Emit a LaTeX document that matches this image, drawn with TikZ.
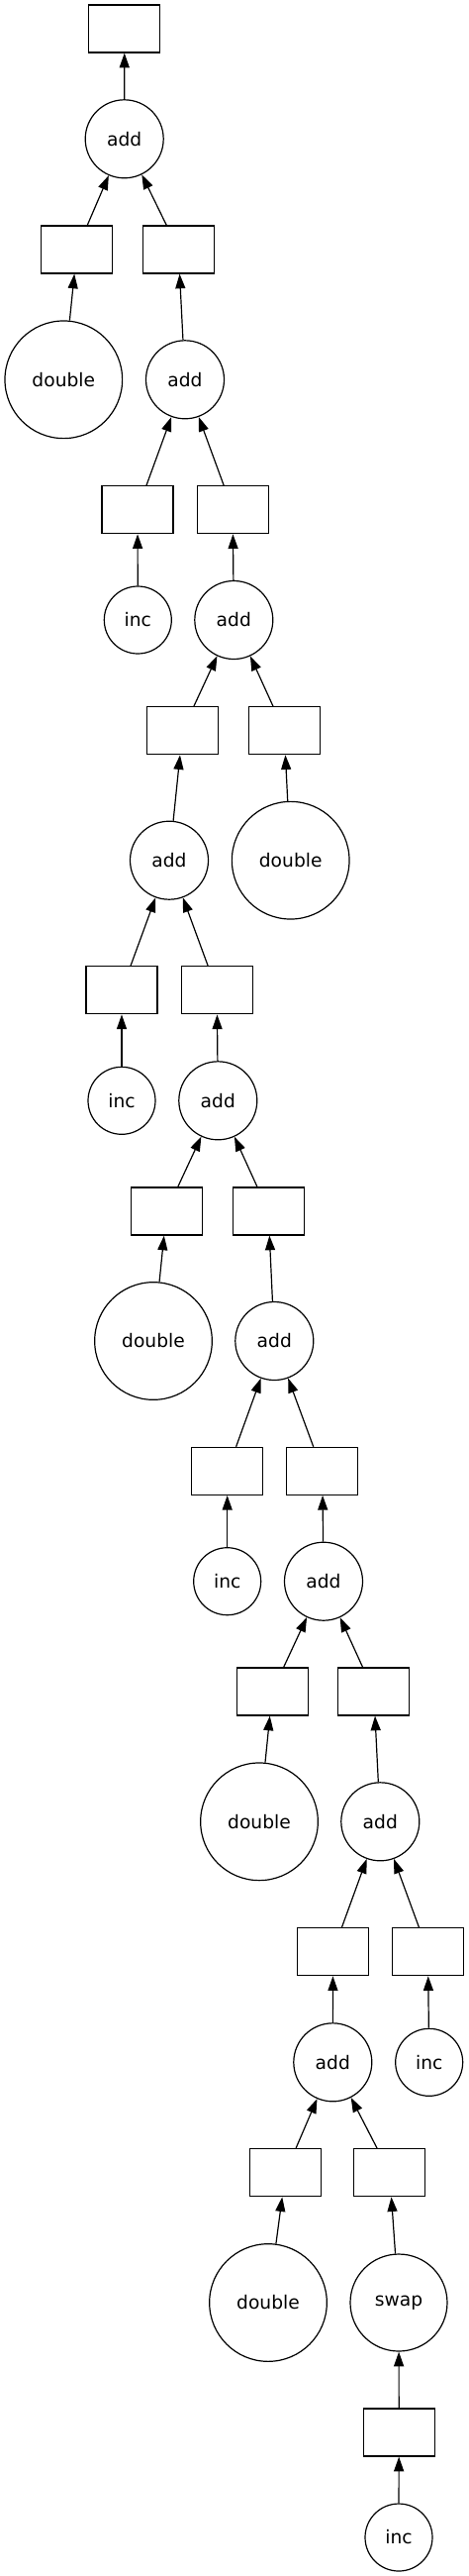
\documentclass[tikz,border=0pt]{standalone}
\usepackage{fontspec}
\setmainfont{DejaVu Sans}
\usetikzlibrary{arrows.meta}

\begin{document}
\begin{tikzpicture}[x=0.75pt, y=-0.75pt, line width=0.9pt,
                    >={Triangle[length=11pt,width=7.5pt]},
                    every node/.style={draw,inner sep=0pt,font=\fontsize{14pt}{16pt}\selectfont},
                    data node/.style={rectangle,minimum width=54pt,minimum height=36pt},
                    task node/.style={circle,minimum size=59.25pt},
                    inc node/.style={circle,minimum size=51pt},
                    double node/.style={circle,minimum size=89pt},
                    swap node/.style={circle,minimum size=73.5pt}]

  \useasboundingbox (0,0) rectangle (474,2601);

  \node[data node] (1) at (125.8,29) {};
  \node[task node] (2) at (125.7,140.3) {add};
  \node[data node] (3) at (77.7,252) {};
  \node[data node] (4) at (180.3,252) {};
  \node[double node] (5) at (64.3,383.3) {double};
  \node[task node] (6) at (187,383.3) {add};
  \node[data node] (7) at (139,514.7) {};
  \node[data node] (8) at (235.2,514.7) {};
  \node[inc node] (9) at (139.3,626) {inc};
  \node[task node] (10) at (236.3,626) {add};
  \node[data node] (11) at (184.5,737.7) {};
  \node[data node] (12) at (287.2,737.7) {};
  \node[task node] (13) at (171,868.7) {add};
  \node[double node] (14) at (293.7,868.7) {double};
  \node[data node] (15) at (123,999.8) {};
  \node[data node] (16) at (219.2,999.8) {};
  \node[inc node] (17) at (123,1111.3) {inc};
  \node[task node] (18) at (220.3,1111.3) {add};
  \node[data node] (19) at (168.3,1223) {};
  \node[data node] (20) at (271.2,1223) {};
  \node[double node] (21) at (155,1354) {double};
  \node[task node] (22) at (277.3,1354) {add};
  \node[data node] (23) at (229.7,1485.3) {};
  \node[data node] (24) at (325.8,1485.3) {};
  \node[inc node] (25) at (229.7,1596.7) {inc};
  \node[task node] (26) at (327,1596.7) {add};
  \node[data node] (27) at (275.2,1708) {};
  \node[data node] (28) at (377.8,1708) {};
  \node[double node] (29) at (262,1839.3) {double};
  \node[task node] (30) at (384.3,1839.3) {add};
  \node[data node] (31) at (336.5,1970.7) {};
  \node[data node] (32) at (432.5,1970.7) {};
  \node[task node] (33) at (336.3,2082.3) {add};
  \node[inc node] (34) at (433.7,2082.3) {inc};
  \node[data node] (35) at (288.5,2193.7) {};
  \node[data node] (36) at (393.8,2193.7) {};
  \node[double node] (37) at (271,2325) {double};
  \node[swap node] (38) at (403,2325) {swap};
  \node[data node] (39) at (403.2,2456) {};
  \node[inc node] (40) at (403,2562) {inc};

\path[->]
    (2) edge (1)
    (3) edge (2)
    (4) edge (2)
    (5) edge (3)
    (6) edge (4)
    (7) edge (6)
    (8) edge (6)
    (9) edge (7)
    (10) edge (8)
    (11) edge (10)
    (12) edge (10)
    (13) edge (11)
    (14) edge (12)
    (15) edge (13)
    (16) edge (13)
    (17) edge (15)
    (18) edge (16)
    (19) edge (18)
    (20) edge (18)
    (21) edge (19)
    (22) edge (20)
    (23) edge (22)
    (24) edge (22)
    (25) edge (23)
    (26) edge (24)
    (27) edge (26)
    (28) edge (26)
    (29) edge (27)
    (30) edge (28)
    (31) edge (30)
    (32) edge (30)
    (33) edge (31)
    (34) edge (32)
    (35) edge (33)
    (36) edge (33)
    (37) edge (35)
    (38) edge (36)
    (39) edge (38)
    (40) edge (39);

\end{tikzpicture}
\end{document}
